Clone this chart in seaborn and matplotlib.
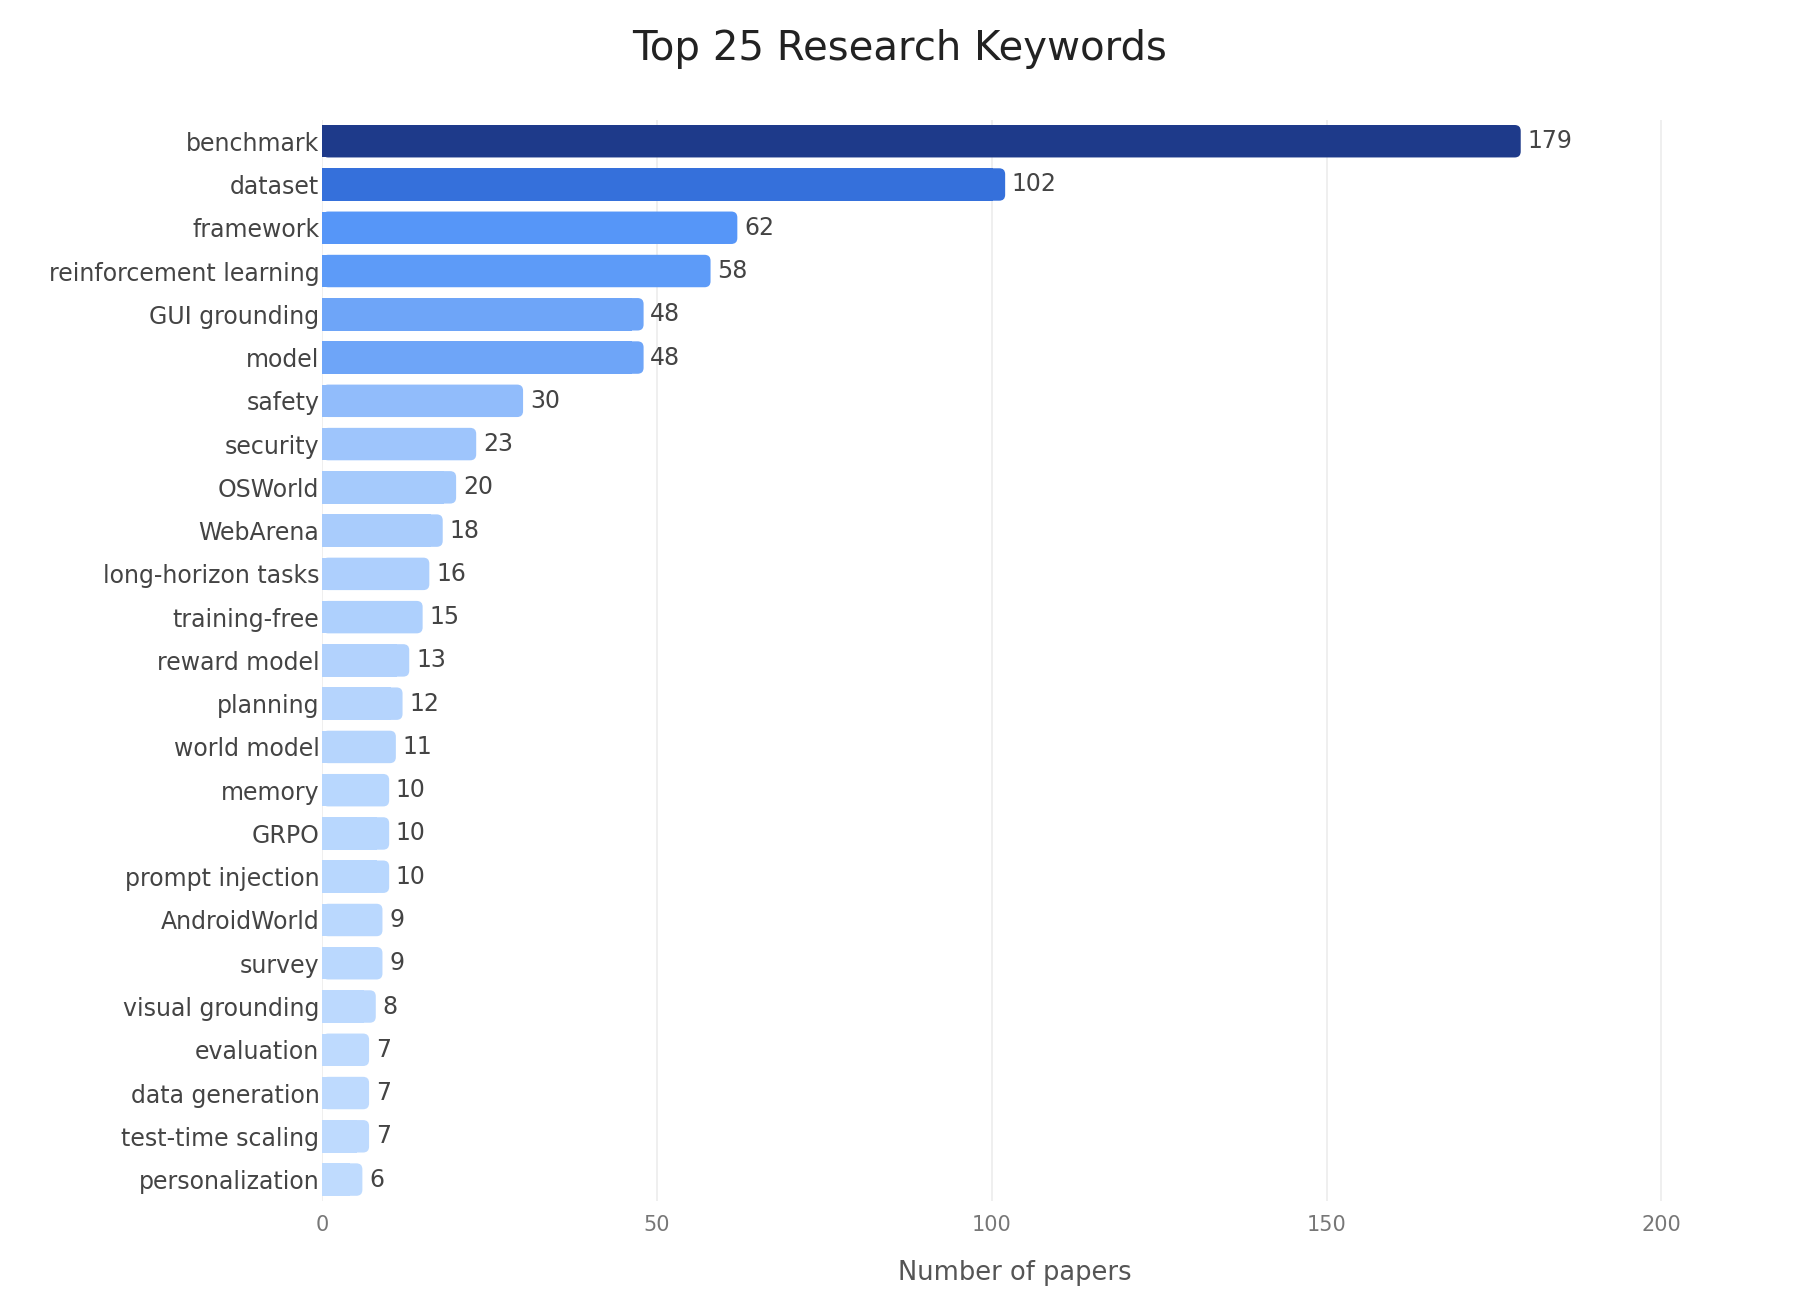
import pandas as pd
import matplotlib.pyplot as plt
import matplotlib.colors as mcolors
from matplotlib.patches import FancyBboxPatch, Rectangle
import seaborn as sns

keywords = ['benchmark', 'dataset', 'framework', 'reinforcement learning', 'GUI grounding',
            'model', 'safety', 'security', 'OSWorld', 'WebArena', 'long-horizon tasks',
            'training-free', 'reward model', 'planning', 'world model', 'memory', 'GRPO',
            'prompt injection', 'AndroidWorld', 'survey', 'visual grounding', 'evaluation',
            'data generation', 'test-time scaling', 'personalization']
counts = [179, 102, 62, 58, 48, 48, 30, 23, 20, 18, 16, 15, 13, 12, 11, 10, 10, 10,
          9, 9, 8, 7, 7, 7, 6]

df = pd.DataFrame({'keyword': keywords, 'papers': counts})

# colour scale light blue -> navy by count
cmap = mcolors.LinearSegmentedColormap.from_list(
    'kw', [(0.0, '#bfdbfe'), (0.243, '#6ea5f8'), (0.324, '#5596f8'),
           (0.555, '#3570db'), (1.0, '#1e3a8a')])
norm = mcolors.Normalize(vmin=min(counts), vmax=max(counts))
palette = [cmap(norm(v)) for v in counts]

sns.set_style('white')
plt.rcParams['font.family'] = ['DejaVu Sans']

fig = plt.figure(figsize=(18, 13), dpi=100)
ax = fig.add_axes([0.179, 0.076, 0.77, 0.832])

sns.barplot(data=df, x='papers', y='keyword', hue='keyword', palette=palette,
            saturation=1, legend=False, width=0.75, ax=ax, zorder=2)

ax.set_xlim(0, 207)
ax.set_ylim(len(keywords) - 0.5, -0.5)
ax.set_xticks([0, 50, 100, 150, 200])
ax.grid(axis='x', color='#ececec', linewidth=1.2, zorder=0)
ax.set_axisbelow(True)
for s in ax.spines.values():
    s.set_visible(False)

# rounded right end on each bar
fig.canvas.draw()
px_x = ax.transData.transform((1, 0))[0] - ax.transData.transform((0, 0))[0]
px_y = abs(ax.transData.transform((0, 1))[1] - ax.transData.transform((0, 0))[1])
aspect = px_x / px_y
r = 6 / px_x
for p in list(ax.patches):
    x, y = p.get_x(), p.get_y()
    w, h = p.get_width(), p.get_height()
    c = p.get_facecolor()
    p.remove()
    ax.add_patch(FancyBboxPatch((x, y), w, h, boxstyle=f'round,pad=0,rounding_size={r}',
                                mutation_aspect=aspect, facecolor=c, edgecolor='none', zorder=2))
    ax.add_patch(Rectangle((x, y), max(w - 2 * r, 0), h, facecolor=c, edgecolor='none', zorder=2))
    ax.text(x + w + 1.0, y + h / 2, f'{int(round(w))}', va='center', ha='left',
            fontsize=17, color='#444444')

ax.tick_params(axis='y', length=0, pad=2, labelsize=17, labelcolor='#444444')
ax.tick_params(axis='x', length=0, pad=10, labelsize=15, labelcolor='#777777')
ax.set_ylabel('')
ax.set_xlabel('Number of papers', fontsize=18.5, color='#555555', labelpad=18)

fig.suptitle('Top 25 Research Keywords', fontsize=29, color='#222222', y=0.978)

plt.savefig('out.png', dpi=100)
